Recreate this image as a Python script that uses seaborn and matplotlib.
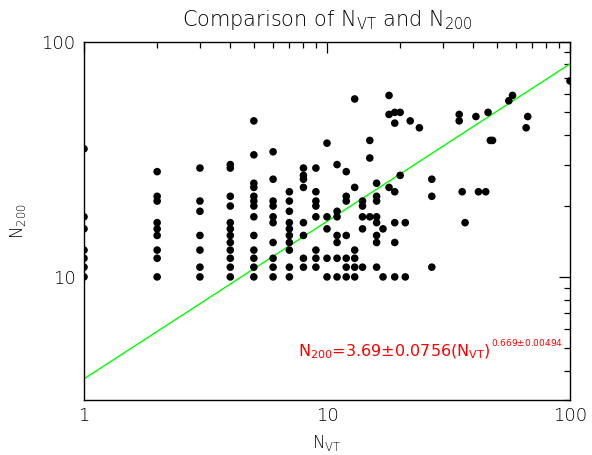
import numpy as np
import pandas as pd
import matplotlib
matplotlib.use("Agg")
import matplotlib.pyplot as plt
import seaborn as sns
from matplotlib.ticker import LogLocator, FixedLocator, FixedFormatter, NullFormatter

# ---- data ----
columns = {
    1: [35, 18, 16, 13, 12, 11, 10],
    2: [28, 22, 21, 17, 16, 15, 13, 12, 10],
    3: [29, 21, 19, 15, 13, 11, 10],
    4: [30, 29, 22, 20, 17, 16, 15, 14, 13, 12, 11, 10],
    5: [46, 33, 25, 24, 22, 21, 20, 18, 15, 13, 12, 11, 10],
    6: [34, 26, 21, 20, 18, 17, 14, 12, 11, 10],
    7: [23, 21, 19, 17, 16, 15, 14, 13, 11, 10],
    8: [29, 27, 26, 24, 17, 15, 12, 11],
    9: [29, 23, 21, 20, 18, 13, 12, 11],
    10: [37, 18, 16, 12, 10],
    11: [30, 19, 18, 15, 14, 12, 10],
    12: [28, 22, 21, 15, 12, 11, 10],
    13: [57, 24, 13, 12, 11, 10],
    14: [21, 20, 18, 16, 11],
    15: [38, 32, 18],
    16: [25, 22, 21, 18, 17, 15, 14, 11],
    17: [16, 10],
    18: [59, 49, 24],
    19: [50, 45, 23, 17, 14, 10],
    20: [50, 27],
    21: [17, 10],
    22: [46],
    24: [43],
    27: [26, 22, 11],
    35: [49, 46],
    36: [23],
    37: [17],
    41: [48],
    42: [23],
    45: [23],
    46: [50],
    47: [38],
    48: [38],
    56: [56],
    58: [59],
    66: [43],
    67: [48],
    100: [68],
}
n_vt = [x for x, ys in columns.items() for _ in ys]
n_200 = [y for ys in columns.values() for y in ys]

fit_a, fit_a_err = 3.69, 0.0756
fit_b, fit_b_err = 0.669, 0.00494

df = pd.DataFrame({"nvt": n_vt, "n200": n_200})
fit_x = np.logspace(0, 2, 50)
fit_df = pd.DataFrame({"x": fit_x, "y": fit_a * fit_x ** fit_b})

# ---- style ----
sns.set_style("white")
plt.rcParams["font.family"] = ["DejaVu Sans"]
plt.rcParams["mathtext.default"] = "regular"

fig = plt.figure(figsize=(5.92, 4.55), dpi=100)
ax = fig.add_axes([84 / 592, 55 / 455, 486 / 592, 358.5 / 455])

sns.lineplot(data=fit_df, x="x", y="y", ax=ax, color="#00ff00", linewidth=1.0)
sns.scatterplot(data=df, x="nvt", y="n200", ax=ax, color="black", s=30,
                edgecolor="none", linewidth=0, zorder=3)

ax.set_xscale("log")
ax.set_yscale("log")
ax.set_xlim(1, 100)
ax.set_ylim(3, 100)

ax.xaxis.set_major_locator(FixedLocator([1, 10, 100]))
ax.xaxis.set_major_formatter(FixedFormatter(["1", "10", "100"]))
ax.xaxis.set_minor_locator(LogLocator(base=10, subs=np.arange(2, 10)))
ax.xaxis.set_minor_formatter(NullFormatter())
ax.yaxis.set_major_locator(FixedLocator([10, 100]))
ax.yaxis.set_major_formatter(FixedFormatter(["10", "100"]))
ax.yaxis.set_minor_locator(LogLocator(base=10, subs=np.arange(2, 10)))
ax.yaxis.set_minor_formatter(NullFormatter())

ax.tick_params(which="both", direction="in", top=True, right=True,
               color="black", width=0.9, labelsize=13, labelcolor="black")
ax.tick_params(which="major", length=8)
ax.tick_params(which="minor", length=4.5)
ax.tick_params(axis="x", which="major", pad=5)
ax.tick_params(axis="y", which="major", pad=6)
for lab in ax.get_xticklabels() + ax.get_yticklabels():
    lab.set_fontweight("light")
for s in ax.spines.values():
    s.set_visible(True)
    s.set_color("black")
    s.set_linewidth(1.0)

ax.set_xlabel("N$_{VT}$", fontsize=12, color="black", labelpad=6,
              fontweight="light")
ax.set_ylabel("N$_{200}$", fontsize=12, color="black", labelpad=10,
              fontweight="light")
ax.set_title("Comparison of N$_{VT}$ and N$_{200}$", fontsize=15,
             color="black", pad=11, fontweight="light")

main_label = r"N$_{200}$=%.2f$\pm$%.4f(N$_{VT}$)" % (fit_a, fit_a_err)
sup_label = r"%.3f$\pm$%.5f" % (fit_b, fit_b_err)
t_main = ax.text(7.6, 4.8, main_label, color="#ff0000", fontsize=11.5,
                 va="center", ha="left")
ax.annotate(sup_label, xy=(1.0, 0.72), xycoords=t_main, color="#ff0000",
            fontsize=6.5, va="bottom", ha="left")

fig.savefig("out.png", dpi=100)
